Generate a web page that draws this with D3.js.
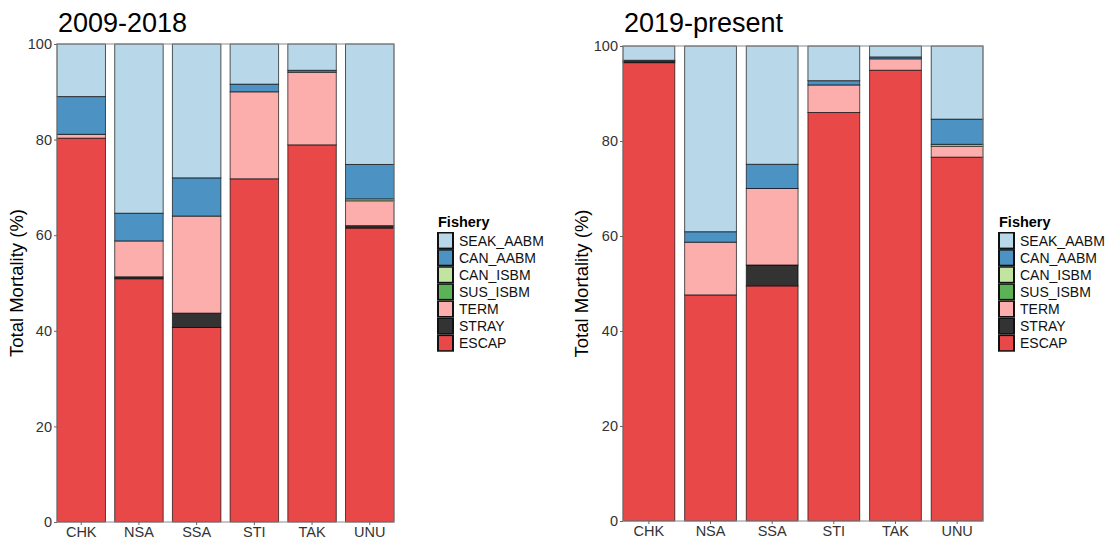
<!DOCTYPE html>
<html>
<head>
<meta charset="utf-8">
<style>
  body { margin: 0; background: #fff; }
  text { font-family: "Liberation Sans", Arial, sans-serif; }
</style>
</head>
<body>
<script src="https://d3js.org/d3.v7.min.js"></script>
<script>
    const sites = ["CHK", "NSA", "SSA", "STI", "TAK", "UNU"];
    // stacking order, bottom to top
    const fisheries = ["ESCAP", "STRAY", "TERM", "SUS_ISBM", "CAN_ISBM", "CAN_AABM", "SEAK_AABM"];
    const legendOrder = ["SEAK_AABM", "CAN_AABM", "CAN_ISBM", "SUS_ISBM", "TERM", "STRAY", "ESCAP"];
    const fisheryColors = ["#e94849", "#333333", "#fcaead", "#5cb356", "#c1e5a1", "#4c93c3", "#b8d8e9"];
    const yTicks = [0, 20, 40, 60, 80, 100];

    // 2009-2018
    const escapA = [80.3, 50.9, 40.7, 71.8, 78.9, 61.5];
    const strayA = [0, 0.4, 3.0, 0, 0, 0.5];
    const termA = [0.8, 7.5, 20.3, 18.2, 15.2, 5.2];
    const susIsbmA = [0, 0, 0, 0, 0, 0];
    const canIsbmA = [0, 0, 0, 0, 0, 0.4];
    const canAabmA = [7.9, 5.8, 8.0, 1.6, 0.4, 7.2];
    const seakAabmA = [11.0, 35.4, 28.0, 8.4, 5.5, 25.2];

    // 2019-present
    const escapB = [96.5, 47.6, 49.5, 86.0, 94.9, 76.6];
    const strayB = [0.3, 0, 4.4, 0, 0, 0];
    const termB = [0.2, 11.1, 16.1, 5.8, 2.4, 2.3];
    const susIsbmB = [0, 0, 0, 0, 0, 0];
    const canIsbmB = [0, 0, 0, 0, 0, 0.4];
    const canAabmB = [0, 2.2, 5.1, 0.9, 0.4, 5.3];
    const seakAabmB = [3.0, 39.1, 24.9, 7.3, 2.3, 15.4];

    const width = 1108;
    const height = 540;

    const color = d3.scaleOrdinal().domain(fisheries).range(fisheryColors);

    const svg = d3.select("body")
        .append("svg")
        .attr("width", width)
        .attr("height", height);

    function buildRows(series) {
        return sites.map((s, i) => {
            const row = { site: s };
            fisheries.forEach((f, j) => { row[f] = series[j][i]; });
            return row;
        });
    }

    function drawPanel(title, series, box) {
        const rows = buildRows(series);
        const stacked = d3.stack().keys(fisheries)(rows);

        const x = d3.scaleBand()
            .domain(sites)
            .range([box.left, box.right])
            .paddingInner(0.16)
            .paddingOuter(0);

        const y = d3.scaleLinear()
            .domain([0, 100])
            .range([box.bottom, box.top]);

        const g = svg.append("g");

        g.selectAll("g.layer")
            .data(stacked)
            .enter()
            .append("g")
            .attr("class", "layer")
            .attr("fill", d => color(d.key))
            .selectAll("rect")
            .data(d => d.filter(p => p[1] - p[0] > 0))
            .enter()
            .append("rect")
            .attr("x", d => x(d.data.site))
            .attr("width", x.bandwidth())
            .attr("y", d => y(d[1]))
            .attr("height", d => y(d[0]) - y(d[1]))
            .attr("stroke", "#000")
            .attr("stroke-opacity", 0.65)
            .attr("stroke-width", 1);

        // panel border
        g.append("rect")
            .attr("x", box.left)
            .attr("y", box.top)
            .attr("width", box.right - box.left)
            .attr("height", box.bottom - box.top)
            .attr("fill", "none")
            .attr("stroke", "#8c8c8c")
            .attr("stroke-width", 1);

        const yAxis = d3.axisLeft(y).tickValues(yTicks).tickSize(3).tickPadding(2);
        const xAxis = d3.axisBottom(x).tickSize(3).tickPadding(2);

        const ya = g.append("g")
            .attr("transform", "translate(" + box.left + ",0)")
            .call(yAxis);
        const xa = g.append("g")
            .attr("transform", "translate(0," + box.bottom + ")")
            .call(xAxis);

        [ya, xa].forEach(a => {
            a.select(".domain").remove();
            a.selectAll(".tick line").attr("stroke", "#666");
            a.selectAll(".tick text")
                .attr("fill", "#333")
                .style("font-size", "14.5px")
                .style("font-family", "'Liberation Sans', Arial, sans-serif");
        });

        g.append("text")
            .attr("x", box.left + 1)
            .attr("y", 32)
            .style("font-size", "27px")
            .attr("fill", "#000")
            .text(title);

        g.append("text")
            .attr("transform", "translate(" + box.yTitleX + "," + ((box.top + box.bottom) / 2) + ") rotate(-90)")
            .attr("text-anchor", "middle")
            .style("font-size", "18.5px")
            .attr("fill", "#000")
            .text("Total Mortality (%)");

        // legend
        const lg = g.append("g")
            .attr("transform", "translate(" + box.legendX + ",0)");

        lg.append("text")
            .attr("x", 1)
            .attr("y", 227)
            .style("font-size", "14.5px")
            .style("font-weight", "bold")
            .text("Fishery");

        const keyH = 17.1;
        const keyTop = 232;
        const items = lg.selectAll("g.item")
            .data(legendOrder)
            .enter()
            .append("g")
            .attr("class", "item")
            .attr("transform", (d, i) => "translate(0," + (keyTop + i * keyH) + ")");

        items.append("rect")
            .attr("x", 0)
            .attr("y", 0)
            .attr("width", 17)
            .attr("height", keyH)
            .attr("fill", "#111");
        items.append("rect")
            .attr("x", 2)
            .attr("y", 1.5)
            .attr("width", 13)
            .attr("height", keyH - 3)
            .attr("fill", d => color(d));

        items.append("text")
            .attr("x", 22)
            .attr("y", keyH / 2)
            .attr("dy", "0.36em")
            .style("font-size", "14px")
            .attr("fill", "#111")
            .text(d => d);
    }

    drawPanel("2009-2018",
        [escapA, strayA, termA, susIsbmA, canIsbmA, canAabmA, seakAabmA],
        { left: 57, right: 394, top: 44, bottom: 522, yTitleX: 23, legendX: 437 });

    drawPanel("2019-present",
        [escapB, strayB, termB, susIsbmB, canIsbmB, canAabmB, seakAabmB],
        { left: 623, right: 983, top: 46, bottom: 521, yTitleX: 588, legendX: 998 });
</script>
</body>
</html>
